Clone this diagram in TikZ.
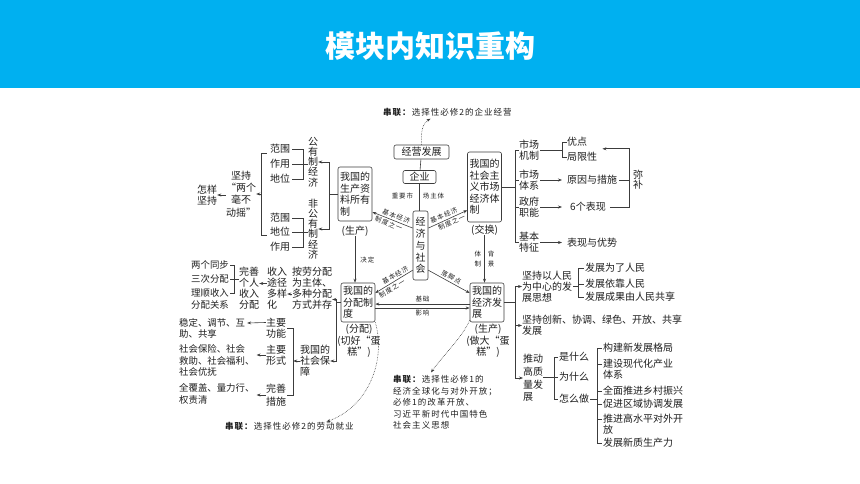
\documentclass[tikz,border=0pt]{standalone}
\usepackage{fontspec}
\setmainfont{Noto Sans CJK SC}
\newfontfamily\notefont[LetterSpace=12]{Noto Sans CJK SC}
\newfontfamily\tagfont[LetterSpace=15]{Noto Sans CJK SC}
\usetikzlibrary{arrows.meta,positioning,calc}
\definecolor{hdblue}{HTML}{00B0F0}
\definecolor{lnk}{HTML}{3C3C3C}
\definecolor{ink}{HTML}{1E1E1E}

\begin{document}
\begin{tikzpicture}[x=1pt, y=-1pt,
  every node/.style={text=ink, inner sep=0pt},
  box/.style={draw=lnk, line width=0.6pt, rounded corners=2pt, inner sep=2pt, font=\fontsize{10}{11.5}\selectfont},
  txt/.style={align=left, font=\fontsize{10}{11.5}\selectfont},
  col/.style={align=left, font=\fontsize{10}{11}\selectfont},
  vtxt/.style={align=center, font=\fontsize{10}{10.2}\selectfont},
  lst/.style={align=left, font=\fontsize{9.4}{11.5}\selectfont},
  tag/.style={font=\tagfont\fontsize{6.5}{8}\selectfont, inner sep=1pt},
  note/.style={align=left, font=\notefont\fontsize{8.5}{11.5}\selectfont},
  link/.style={draw=lnk, line width=0.6pt},
  arr/.style={link, -{Stealth[length=4pt, width=3pt]}},
  dotarr/.style={lnk, densely dotted, line width=0.6pt, -{Stealth[length=4pt, width=3pt]}}
]
  \useasboundingbox (0,0) rectangle (860,484);

  % ---- Header bar ----
  \fill[hdblue] (0,0) rectangle (860,88);
  \node[font=\fontsize{30}{32}\selectfont\bfseries, text=white] (title) at (430,46) {模块内知识重构};

  % ---- Centre: boxes ----
  \node[box, minimum width=55pt, minimum height=14pt] (jyfz) at (421.5,152) {经营发展};
  \node[box, minimum width=33pt, minimum height=13pt] (qiye) at (419.5,177) {企业};
  \node[box, align=center, minimum width=15pt, minimum height=69pt, font=\fontsize{10}{11.8}\selectfont] (econ) at (420.5,245.5) {经\\济\\与\\社\\会};
  \node[box, align=left, minimum height=54pt] (own) at (355,194) {我国的\\生产资\\料所有\\制};
  \node[box, align=left, minimum height=70pt] (mkt) at (484.5,187) {我国的\\社会主\\义市场\\经济体\\制};
  \node[box, align=left, minimum height=39pt] (fenpei) at (358,302.5) {我国的\\分配制\\度};
  \node[box, align=left, minimum height=39pt] (fazhan) at (487,302.5) {我国的\\经济发\\展};

  % labels under boxes
  \node[txt] (ownlbl) at (355,231) {(生产)};
  \node[txt] (mktlbl) at (484.5,230) {(交换)};
  \node[txt, align=center, font=\fontsize{10}{10}\selectfont] (fplbl) at (359,341) {(分配)\\(切好“蛋\\糕”)};
  \node[txt, align=center, font=\fontsize{10}{10}\selectfont] (fzlbl) at (488,341) {(生产)\\(做大“蛋\\糕”)};

  % ---- Centre: connectors ----
  \draw[link] (jyfz) -- (qiye);
  \draw[link] (qiye.south) -- (qiye.south |- econ.north)
    node[tag, pos=0.45, left=5pt] {重要市} node[tag, pos=0.45, right=2pt] {场主体};
  \draw[arr] ($(econ.north west)!0.25!(econ.south west)$) -- ($(own.north east)!0.83!(own.south east)$)
    node[tag, pos=0.45, above=0.5pt, sloped] {基本经济} node[tag, pos=0.55, below=0.5pt, sloped] {制度之一};
  \draw[arr] ($(econ.north east)!0.25!(econ.south east)$) -- ($(mkt.north west)!0.83!(mkt.south west)$)
    node[tag, pos=0.45, above=0.5pt, sloped] {基本经济} node[tag, pos=0.55, below=0.5pt, sloped] {制度之一};
  \draw[arr] ($(econ.north west)!0.855!(econ.south west)$) -- ($(fenpei.north east)!0.26!(fenpei.south east)$)
    node[tag, pos=0.4, above=0.5pt, sloped] {基本经济} node[tag, pos=0.62, below=0.5pt, sloped] {制度之一};
  \draw[arr] ($(econ.north east)!0.855!(econ.south east)$) -- ($(fazhan.north west)!0.26!(fazhan.south west)$)
    node[tag, midway, above=0.5pt, sloped] {落脚点};
  \draw[arr] (ownlbl.south) -- (ownlbl.south |- fenpei.north)
    node[tag, midway, right=4pt] {决定};
  \draw[arr] (mktlbl.south) -- (mktlbl.south |- fazhan.north)
    node[tag, midway, left=2pt, align=center, font=\tagfont\fontsize{6.5}{10}\selectfont] {体\\制}
    node[tag, midway, right=2pt, align=center, font=\tagfont\fontsize{6.5}{10}\selectfont] {背\\景};
  \draw[arr] ($(fazhan.north west)!0.54!(fazhan.south west)$) -- ($(fenpei.north east)!0.54!(fenpei.south east)$)
    node[tag, midway, above=1pt] {基础};
  \draw[arr] ($(fenpei.north east)!0.64!(fenpei.south east)$) -- ($(fazhan.north west)!0.64!(fazhan.south west)$)
    node[tag, midway, below=1pt] {影响};

  % ---- Left: ownership ----
  \node[vtxt] (gong) at (313,162) {公\\有\\制\\经\\济};
  \node[vtxt] (feigong) at (313,229) {非\\公\\有\\制\\经\\济};
  \node[txt] (fw1) at (280,149) {范围};
  \node[txt] (zy1) at (280,164) {作用};
  \node[txt] (dw1) at (280,179) {地位};
  \node[txt] (fw2) at (280,218) {范围};
  \node[txt] (dw2) at (280,232) {地位};
  \node[txt] (zy2) at (280,247) {作用};
  \coordinate (b1) at (303,164);
  \draw[link] ([xshift=2pt]fw1.east) -- (fw1.east -| b1) -- (dw1.east -| b1) -- ([xshift=2pt]dw1.east);
  \draw[link] ([xshift=2pt]zy1.east) -- (zy1.east -| gong.west);
  \coordinate (b2) at (303,232);
  \draw[link] ([xshift=2pt]fw2.east) -- (fw2.east -| b2) -- (zy2.east -| b2) -- ([xshift=2pt]zy2.east);
  \draw[link] ([xshift=2pt]dw2.east) -- (dw2.east -| feigong.west);
  \coordinate (b3) at ([xshift=-8pt]own.west);
  \draw[link] (own.west) -- (b3);
  \draw[arr] (b3) -- (b3 |- gong.east) -- (gong.east);
  \draw[arr] (b3) -- (b3 |- feigong.east) -- (feigong.east);

  \node[txt, align=center, font=\fontsize{10}{12.3}\selectfont] (jianchi) at (241,194) {坚持\\“两个\\毫不\\动摇”};
  \node[txt, align=center, font=\fontsize{10}{10.5}\selectfont] (zenyang) at (207,195) {怎样\\坚持};
  \coordinate (bb) at ([xshift=-9pt]fw1.west);
  \draw[link] ([xshift=-3pt]fw1.south west) -- (bb |- fw1.south west) -- ($(bb |- dw2.west)+(0,3)$) -- ($(dw2.west)+(-3,3)$);
  \draw[arr] (bb |- jianchi.east) -- (jianchi.east);
  \draw[arr] (jianchi.west |- zenyang.east) -- (zenyang.east);

  % ---- Left: distribution ----
  \node[col] (anlao) at (312,288.5) {按劳分配\\为主体、\\多种分配\\方式并存};
  \node[col] (shouru) at (277,288.5) {收入\\途径\\多样\\化};
  \node[col] (wanshan) at (249,288.5) {完善\\个人\\收入\\分配};
  \node[lst, anchor=east] (tbtb) at (229,265) {两个同步};
  \node[lst, anchor=east] (scfp) at (229,279) {三次分配};
  \node[lst, anchor=east] (lssr) at (229,293) {理顺收入};
  \node[lst, anchor=east] (fpgx) at (229,305) {分配关系};
  \coordinate (b4) at ([xshift=5pt]scfp.east);
  \draw[link] ([xshift=1pt]tbtb.east) -- (tbtb.east -| b4) -- (lssr.east -| b4) -- ([xshift=1pt]lssr.east);
  \draw[link] ([xshift=1pt]scfp.east) -- (scfp.east -| wanshan.west);
  \draw[arr] ([yshift=5pt]shouru.west) -- ([yshift=5pt]wanshan.east);
  \draw[arr] ([yshift=-5.5pt]anlao.west) -- ([yshift=-5.5pt]anlao.west -| shouru.east);

  \coordinate (b5) at ([xshift=-4pt]fenpei.west);
  \coordinate (b5t) at ([yshift=3pt]b5);
  \draw[link] (fenpei.west) -- (b5);
  \node[col] (shebao) at (315,361) {我国的\\社会保\\障};
  \draw[arr] (b5t) -- (b5t -| anlao.east);
  \draw[arr] (b5t) -- (b5 |- shebao.east) -- (shebao.east);

  % ---- Left: social security ----
  \node[col, align=center] (gongneng) at (276,328) {主要\\功能};
  \node[col, align=center] (xingshi) at (276,355) {主要\\形式};
  \node[col, align=center, font=\fontsize{10}{13}\selectfont] (cuoshi) at (276,395) {完善\\措施};
  \coordinate (b6) at ([xshift=7pt]gongneng.east);
  \draw[link] ([xshift=1pt]gongneng.east) -- (gongneng.east -| b6) -- (cuoshi.east -| b6) -- ([xshift=1pt]cuoshi.east);
  \draw[arr] (shebao.west) -- (shebao.west -| b6);
  \node[lst, anchor=west] (wending) at (179,328.5) {稳定、调节、互\\助、共享};
  \node[lst, anchor=west] (shbx) at (179,360.5) {社会保险、社会\\救助、社会福利、\\社会优抚};
  \node[lst, anchor=west] (qfg) at (179,394) {全覆盖、量力行、\\权责清};
  \draw[arr] ([yshift=5.5pt]gongneng.west) -- ([xshift=2pt,yshift=5.5pt]wending.east);
  \draw[arr] (xingshi.west) -- ([xshift=2pt]xingshi.west -| shbx.east);
  \draw[arr] (cuoshi.west) -- ([xshift=2pt]cuoshi.west -| qfg.east);

  % ---- Right: market economy ----
  \node[col, align=center] (scjz) at (529,150.5) {市场\\机制};
  \node[col, align=center] (sctx) at (529,180) {市场\\体系};
  \node[col, align=center] (zfzn) at (529,207) {政府\\职能};
  \node[col, align=center] (jbtz) at (529,242.5) {基本\\特征};
  \coordinate (b7) at ([xshift=13pt]mkt.east);
  \draw[link] (mkt.east) -- (b7);
  \draw[link] (scjz.west) -- (scjz.west -| b7) -- (jbtz.west -| b7) -- (jbtz.west);
  \draw[link] (sctx.west -| b7) -- (sctx.west);
  \draw[link] (zfzn.west -| b7) -- (zfzn.west);

  \node[txt, anchor=west] (youdian) at (567,142) {优点};
  \node[txt, anchor=west] (jxx) at (567,157) {局限性};
  \node[txt, anchor=west] (yyjcs) at (567,180) {原因与措施};
  \node[txt, anchor=west] (bx6) at (570,207) {6个表现};
  \node[txt, anchor=west] (bxys) at (567,242.5) {表现与优势};
  \coordinate (b8) at ([xshift=-5pt]youdian.west);
  \draw[link] ([xshift=1pt]scjz.east) -- (scjz.east -| b8);
  \draw[link] (youdian.west) -- (youdian.west -| b8) -- (jxx.west -| b8) -- (jxx.west);
  \draw[arr] ([xshift=1pt]sctx.east) -- ([xshift=-5pt]yyjcs.west);
  \draw[arr] ([xshift=1pt]zfzn.east) -- ([xshift=-8pt]bx6.west);
  \draw[arr] ([xshift=1pt]jbtz.east) -- ([xshift=-5pt]bxys.west);

  \node[vtxt] (mibu) at (638,180) {弥\\补};
  \coordinate (b9) at ([xshift=-4pt]mibu.west);
  \draw[link] ([xshift=2pt]yyjcs.east) -- (yyjcs.east -| b9);
  \draw[arr] ([xshift=4pt]bx6.east) -- (bx6.east -| b9) -- ($(b9 |- youdian.south)+(0,2)$) -- ($(jxx.east |- youdian.south)+(5,2)$);

  % ---- Right: economic development ----
  \node[col, anchor=west] (rmsx) at (522,286.5) {坚持以人民\\为中心的发\\展思想};
  \node[col, anchor=west] (cxfz) at (522,325.5) {坚持创新、协调、绿色、开放、共享\\发展};
  \node[col, anchor=west, font=\fontsize{10}{12.7}\selectfont] (tdgz) at (523,378) {推动\\高质\\量发\\展};
  \coordinate (b10) at ([xshift=11pt]fazhan.east);
  \draw[link] (fazhan.east) -- (b10);
  \draw[arr] (b10 |- tdgz.west) -- (b10 |- rmsx.west) -- (rmsx.west);
  \draw[arr] (b10 |- rmsx.west) -- (b10 |- tdgz.west) -- (tdgz.west);
  \draw[arr] (b10 |- cxfz.west) -- (cxfz.west);

  \node[col, anchor=west] (wrm) at (585,268) {发展为了人民};
  \node[col, anchor=west] (ykrm) at (585,284) {发展依靠人民};
  \node[col, anchor=west] (gx) at (585,297) {发展成果由人民共享};
  \coordinate (b11) at ([xshift=-7pt]wrm.west);
  \draw[link] ([xshift=1pt]rmsx.east) -- (rmsx.east -| b11);
  \draw[link] ([xshift=-1pt]wrm.west) -- (wrm.west -| b11) -- (gx.west -| b11) -- ([xshift=-1pt]gx.west);
  \draw[link] ([xshift=-1pt]ykrm.west) -- (ykrm.west -| b11);

  \node[col, anchor=west] (shm) at (559,357) {是什么};
  \node[col, anchor=west] (wsm) at (559,377) {为什么};
  \node[col, anchor=west] (zmz) at (559,399) {怎么做};
  \coordinate (b12) at ([xshift=-5pt]shm.west);
  \draw[link] (tdgz.east |- wsm.west) -- ([xshift=-1pt]wsm.west);
  \draw[link] ([xshift=-1pt]shm.west) -- (shm.west -| b12) -- (zmz.west -| b12) -- ([xshift=-1pt]zmz.west);

  \node[col, anchor=west] (gjxfz) at (603,348) {构建新发展格局};
  \node[col, anchor=west] (jsxdh) at (603,369) {建设现代化产业\\体系};
  \node[col, anchor=west] (xczx) at (603,391) {全面推进乡村振兴};
  \node[col, anchor=west] (qyxt) at (603,404) {促进区域协调发展};
  \node[col, anchor=west] (dwkf) at (603,424) {推进高水平对外开\\放};
  \node[col, anchor=west] (xzscl) at (603,443) {发展新质生产力};
  \coordinate (b13) at ([xshift=-6pt]gjxfz.west);
  \draw[link] ([xshift=1pt]zmz.east) -- (zmz.east -| b13);
  \draw[link] ([xshift=-1pt]gjxfz.west) -- (gjxfz.west -| b13) -- (xzscl.west -| b13) -- ([xshift=-1pt]xzscl.west);
  \foreach \n in {xczx,qyxt}
    \draw[link] ([xshift=-1pt]\n.west) -- ++(-5,0);
  \foreach \n in {jsxdh,dwkf}
    \draw[link] ($(\n.north west)+(-1,5.5)$) -- ++(-5,0);

  % ---- Cross links (dotted) ----
  \node[note, anchor=west] (lktop) at (383,112) {\textbf{串联：}选择性必修2的企业经营};
  \node[note, anchor=west] (lkleft) at (225,426) {\textbf{串联：}选择性必修2的劳动就业};
  \node[note, anchor=north west] (lkmid) at (393,375.5)
    {\textbf{串联：}选择性必修1的\\经济全球化与对外开放；\\必修1的改革开放、\\习近平新时代中国特色\\社会主义思想};
  \draw[dotarr] (jyfz.north) .. controls ($(jyfz.north)+(-1,-15)$) and ($(jyfz.north)+(2,-22)$) .. ($(jyfz.north)+(9,-26)$);
  \draw[dotarr] (fenpei.south east) .. controls ($(fenpei.south east)+(11,38)$) and ($(lkleft.north)+(79,-15)$) .. ($(lkleft.north)+(37,0)$);
  \draw[dotarr] ($(fazhan.south west)+(0,-2)$) .. controls ($(fazhan.south west)+(-8,16)$) and ($(lkmid.north west)+(49,-19)$) .. ($(lkmid.north west)+(38,-3)$);

\end{tikzpicture}
\end{document}
